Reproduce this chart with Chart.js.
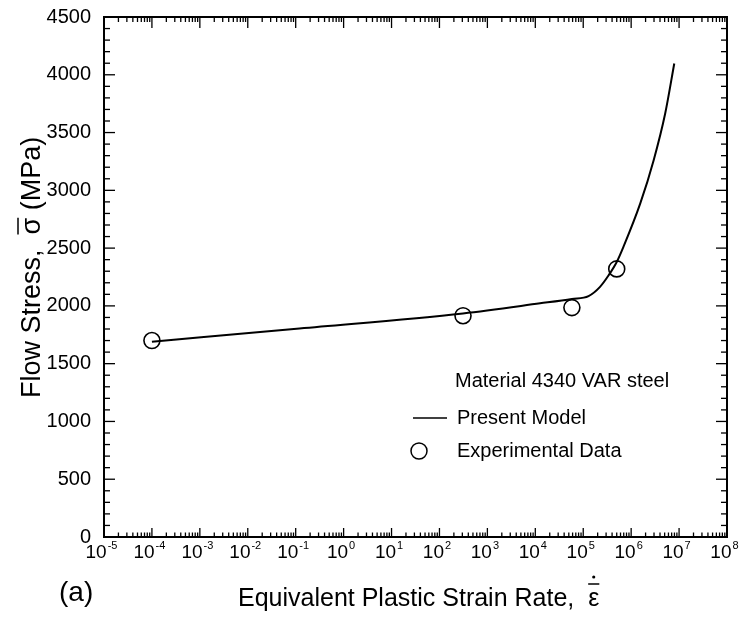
<!DOCTYPE html>
<html>
<head>
<meta charset="utf-8">
<script src="https://cdn.jsdelivr.net/npm/chart.js@4.4.1/dist/chart.umd.min.js"></script>
<style>
  body { margin: 0; background: #fff; }
  canvas { display: block; }
</style>
</head>
<body>
<canvas id="stressChart" width="747" height="617"></canvas>
<script>
// Decades on the strain rate axis (exponents of 10) and stress ticks
const xDecades = [-5, -4, -3, -2, -1, 0, 1, 2, 3, 4, 5, 6, 7, 8];
const yTicks = [0, 500, 1000, 1500, 2000, 2500, 3000, 3500, 4000, 4500];

// Present model curve (strain rate 1/s, flow stress MPa)
const modelRate = [1e-4, 1.2e-1, 3.1e2, 1.26e4, 5.8e4, 1.29e5, 2.24e5, 3.39e5, 5.0e5, 6.9e5, 1.55e6, 2.95e6, 5.13e6, 7.94e6];
const modelStress = [1690, 1805, 1935, 2022, 2060, 2085, 2165, 2265, 2380, 2511, 2887, 3261, 3665, 4098];

// Experimental data points
const expRate = [1e-4, 3.1e2, 5.8e4, 5.0e5];
const expStress = [1700, 1915, 1985, 2320];

const FONT = "'Liberation Sans', Arial, Helvetica, sans-serif";

function line(ctx, x1, y1, x2, y2) {
    ctx.beginPath();
    ctx.moveTo(x1, y1);
    ctx.lineTo(x2, y2);
    ctx.stroke();
}

// Draws the frame, inward ticks, tick labels, axis titles and the legend box
const framePlugin = {
    id: 'frame',
    afterDatasetsDraw(chart) {
        const { ctx, chartArea: a, scales: { x, y } } = chart;
        ctx.save();
        ctx.strokeStyle = '#000';
        ctx.fillStyle = '#000';

        ctx.lineWidth = 2;
        ctx.strokeRect(a.left, a.top, a.right - a.left, a.bottom - a.top);

        // x axis ticks, bottom and top
        ctx.lineWidth = 1.3;
        xDecades.forEach((d, i) => {
            const px = x.getPixelForValue(Math.pow(10, d));
            line(ctx, px, a.bottom, px, a.bottom - 9);
            line(ctx, px, a.top, px, a.top + 11);
            if (i < xDecades.length - 1) {
                for (let m = 2; m <= 9; m++) {
                    const mx = x.getPixelForValue(m * Math.pow(10, d));
                    line(ctx, mx, a.bottom, mx, a.bottom - 4.5);
                    line(ctx, mx, a.top, mx, a.top + 5);
                }
            }
        });

        // y axis ticks, left and right
        for (let v = 0; v <= 4500; v += 100) {
            const py = y.getPixelForValue(v);
            const len = v % 500 === 0 ? 11 : 6;
            line(ctx, a.left, py, a.left + len, py);
            line(ctx, a.right, py, a.right - len, py);
        }

        // y tick labels
        ctx.font = '20px ' + FONT;
        ctx.textAlign = 'right';
        ctx.textBaseline = 'middle';
        yTicks.forEach(v => ctx.fillText(String(v), 91, y.getPixelForValue(v)));

        // x tick labels as 10 with raised exponent
        xDecades.forEach(d => {
            const px = x.getPixelForValue(Math.pow(10, d));
            const base = '10';
            const exp = String(d);
            ctx.font = '19px ' + FONT;
            const wb = ctx.measureText(base).width;
            ctx.font = '11px ' + FONT;
            const we = ctx.measureText(exp).width;
            const left = px - (wb + we) / 2 - 3;
            ctx.textAlign = 'left';
            ctx.textBaseline = 'alphabetic';
            ctx.font = '19px ' + FONT;
            ctx.fillText(base, left, 558);
            ctx.font = '11px ' + FONT;
            ctx.fillText(exp, left + wb + 1, 549);
        });

        // x axis title with strain rate symbol
        ctx.font = '25px ' + FONT;
        ctx.textAlign = 'left';
        ctx.textBaseline = 'alphabetic';
        const xt = 'Equivalent Plastic Strain Rate,  ';
        ctx.fillText(xt, 238, 606);
        const ex = 238 + ctx.measureText(xt).width;
        ctx.fillText('\u03b5', ex, 606);
        const ew = ctx.measureText('\u03b5').width;
        ctx.lineWidth = 1.5;
        line(ctx, ex, 584, ex + ew, 584);
        ctx.beginPath();
        ctx.arc(ex + ew / 2, 577, 1.6, 0, Math.PI * 2);
        ctx.fill();

        // panel label
        ctx.font = '28px ' + FONT;
        ctx.fillText('(a)', 59, 601);

        // y axis title, rotated, with overbar on sigma
        ctx.save();
        ctx.translate(40, 398);
        ctx.rotate(-Math.PI / 2);
        ctx.font = '27px ' + FONT;
        ctx.textAlign = 'left';
        ctx.textBaseline = 'alphabetic';
        const yt1 = 'Flow Stress,  ';
        ctx.fillText(yt1, 0, 0);
        let cx = ctx.measureText(yt1).width;
        ctx.fillText('\u03c3', cx, 0);
        const sw = ctx.measureText('\u03c3').width;
        line(ctx, cx, -22, cx + sw, -22);
        cx += sw;
        ctx.fillText(' (MPa)', cx, 0);
        ctx.restore();

        // legend box
        ctx.font = '20px ' + FONT;
        ctx.textAlign = 'left';
        ctx.textBaseline = 'middle';
        ctx.fillText('Material 4340 VAR steel', 455, 381);
        ctx.lineWidth = 1.5;
        line(ctx, 413, 418, 447, 418);
        ctx.fillText('Present Model', 457, 418);
        ctx.beginPath();
        ctx.arc(419, 451, 8, 0, Math.PI * 2);
        ctx.stroke();
        ctx.fillText('Experimental Data', 457, 451);

        ctx.restore();
    }
};

const chart = new Chart(document.getElementById('stressChart'), {
    type: 'scatter',
    data: {
        datasets: [
            {
                label: 'Present Model',
                data: modelRate.map((r, i) => ({ x: r, y: modelStress[i] })),
                showLine: true,
                borderColor: '#000',
                borderWidth: 2,
                pointRadius: 0,
                cubicInterpolationMode: 'monotone'
            },
            {
                label: 'Experimental Data',
                data: expRate.map((r, i) => ({ x: r, y: expStress[i] })),
                showLine: false,
                pointStyle: 'circle',
                pointRadius: 8,
                borderColor: '#000',
                borderWidth: 1.6,
                backgroundColor: 'rgba(0,0,0,0)'
            }
        ]
    },
    options: {
        responsive: false,
        animation: false,
        events: [],
        layout: { padding: { left: 104, right: 20, top: 17, bottom: 80 } },
        plugins: { legend: { display: false }, tooltip: { enabled: false } },
        scales: {
            x: { type: 'logarithmic', min: 1e-5, max: 1e8, display: false },
            y: { type: 'linear', min: 0, max: 4500, display: false }
        }
    },
    plugins: [framePlugin]
});
</script>
</body>
</html>
